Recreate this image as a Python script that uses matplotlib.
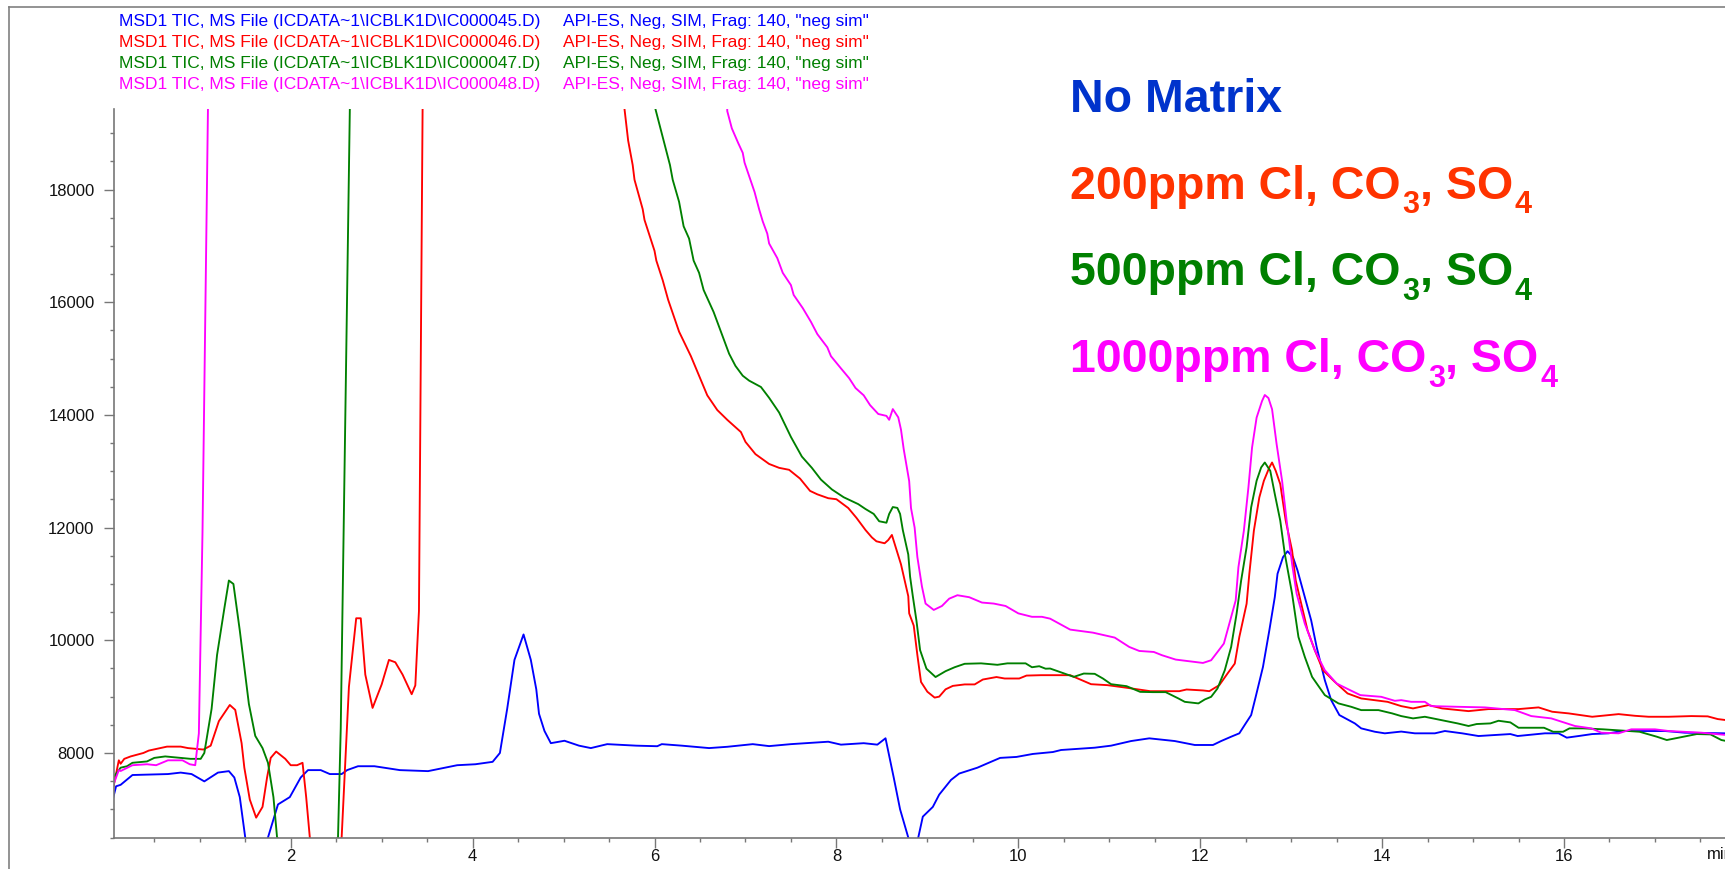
import matplotlib
matplotlib.use("Agg")
import matplotlib.pyplot as plt
from matplotlib.lines import Line2D
from matplotlib.ticker import MultipleLocator
import matplotlib.transforms as mtransforms

plt.rcParams['font.family'] = ['Liberation Sans', 'DejaVu Sans']

# ---- data (retention time in min, TIC abundance) ----
# no matrix (IC000045)
t_blue = [0.05, 0.08, 0.13, 0.26, 0.65, 0.79, 0.91, 1.05, 1.20, 1.32, 1.38, 1.44, 1.50, 1.62, 1.75,
          1.86, 1.99, 2.11, 2.19, 2.33, 2.43, 2.56, 2.62, 2.74, 2.92, 3.20, 3.51, 3.83, 4.03, 4.22,
          4.30, 4.38, 4.46, 4.56, 4.64, 4.70, 4.73, 4.79, 4.86, 5.01, 5.17, 5.30, 5.48, 5.80, 6.03,
          6.08, 6.30, 6.60, 6.80, 7.08, 7.26, 7.50, 7.91, 8.05, 8.30, 8.45, 8.54, 8.63, 8.70, 8.79,
          8.85, 8.90, 8.95, 9.06, 9.13, 9.26, 9.35, 9.55, 9.65, 9.80, 9.98, 10.16, 10.38, 10.47,
          10.84, 11.02, 11.24, 11.44, 11.72, 11.94, 12.14, 12.23, 12.34, 12.43, 12.50, 12.56, 12.61,
          12.69, 12.76, 12.82, 12.85, 12.91, 12.96, 13.02, 13.07, 13.15, 13.22, 13.28, 13.37, 13.44,
          13.53, 13.70, 13.77, 13.92, 14.03, 14.21, 14.36, 14.58, 14.69, 14.88, 15.06, 15.41, 15.49,
          15.79, 15.94, 16.03, 16.16, 16.31, 16.49, 16.64, 16.90, 17.11, 17.33, 17.77, 17.90]
y_blue = [7217, 7409, 7435, 7609, 7626, 7652, 7626, 7496, 7652, 7678, 7565, 7217, 6500, 6100, 6500,
          7087, 7217, 7565, 7696, 7696, 7626, 7626, 7696, 7765, 7765, 7696, 7678, 7783, 7800, 7843,
          8000, 8783, 9652, 10104, 9652, 9130, 8696, 8391, 8174, 8217, 8130, 8087, 8157, 8130, 8120,
          8157, 8130, 8087, 8110, 8157, 8122, 8157, 8200, 8148, 8174, 8148, 8261, 7565, 7000, 6500,
          6200, 6500, 6870, 7043, 7261, 7522, 7635, 7739, 7809, 7913, 7930, 7983, 8017, 8053,
          8094, 8130, 8212, 8260, 8212, 8142, 8142, 8212, 8289, 8349, 8525, 8673, 8997,
          9528, 10177, 10767, 11181, 11475, 11581, 11475, 11239, 10767, 10354, 9882, 9292, 8938,
          8673, 8525, 8437, 8377, 8349, 8380, 8349, 8349, 8390, 8349, 8301, 8336, 8301,
          8349, 8349, 8272, 8301, 8336, 8349, 8390, 8390, 8390, 8360, 8349, 8301]

# 200 ppm (IC000046)
t_red = [0.05, 0.11, 0.13, 0.17, 0.24, 0.38, 0.44, 0.64, 0.79, 0.87, 1.04, 1.12, 1.21, 1.33, 1.39,
         1.46, 1.49, 1.55, 1.62, 1.69, 1.74, 1.78, 1.84, 1.94, 2.00, 2.07, 2.13, 2.17, 2.21, 2.35,
         2.56, 2.64, 2.72, 2.77, 2.82, 2.90, 3.00, 3.08, 3.15, 3.23, 3.33, 3.37, 3.41, 3.45, 3.50,
         5.60, 5.67, 5.71, 5.76, 5.78, 5.87, 5.89, 6.00, 6.02, 6.09, 6.15, 6.27, 6.40, 6.49, 6.58,
         6.69, 6.80, 6.86, 6.95, 7.00, 7.11, 7.26, 7.37, 7.48, 7.60, 7.71, 7.79, 7.91, 8.00, 8.13,
         8.22, 8.32, 8.39, 8.44, 8.53, 8.57, 8.61, 8.66, 8.71, 8.79, 8.80, 8.85, 8.89, 8.93, 9.00,
         9.08, 9.13, 9.20, 9.28, 9.41, 9.52, 9.61, 9.76, 9.85, 10.01, 10.09, 10.25, 10.57, 10.80,
         10.98, 11.20, 11.45, 11.77, 11.85, 12.03, 12.10, 12.21, 12.30, 12.38, 12.43, 12.51, 12.54,
         12.59, 12.65, 12.70, 12.76, 12.79, 12.83, 12.88, 12.94, 13.01, 13.05, 13.12, 13.18, 13.26,
         13.35, 13.48, 13.62, 13.77, 14.06, 14.21, 14.34, 14.51, 14.66, 14.95, 15.17, 15.50, 15.72,
         15.87, 16.05, 16.31, 16.60, 16.78, 16.93, 17.15, 17.40, 17.58, 17.69, 17.78]
y_red = [7391, 7870, 7809, 7896, 7939, 8000, 8043, 8113, 8113, 8087, 8061, 8130, 8565, 8852, 8765,
         8174, 7739, 7174, 6852, 7043, 7565, 7913, 8026, 7896, 7783, 7783, 7826, 7217, 6500, 6000,
         6500, 9174, 10391, 10391, 9391, 8800, 9217, 9652, 9610, 9391, 9043, 9200, 10522, 19430, 25000,
         25000, 19430, 18870, 18435, 18174, 17652, 17461, 16913, 16739, 16391, 16043, 15478, 15043, 14696, 14348,
         14087, 13913, 13826, 13696, 13522, 13304, 13130, 13061, 13026, 12870, 12652, 12591, 12522, 12504, 12348,
         12174, 11957, 11826, 11757, 11722, 11780, 11870, 11609, 11348, 10783, 10478, 10261, 9739, 9261, 9087,
         8983, 9000, 9130, 9191, 9217, 9217, 9304, 9348, 9322, 9322, 9374, 9381, 9381, 9221,
         9204, 9156, 9097, 9097, 9127, 9110, 9097, 9204, 9410, 9587, 10059, 10649, 11181,
         11947, 12537, 12832, 13068, 13156, 13009, 12773, 12124, 11593, 11062, 10590, 10177, 9823,
         9469, 9262, 9057, 8968, 8908, 8832, 8791, 8850, 8791, 8743, 8779, 8779, 8809,
         8732, 8703, 8643, 8690, 8660, 8643, 8643, 8655, 8650, 8602, 8584]

# 500 ppm (IC000047)
t_green = [0.05, 0.13, 0.20, 0.26, 0.42, 0.50, 0.62, 0.90, 1.01, 1.05, 1.13, 1.19, 1.27, 1.32, 1.37,
           1.44, 1.48, 1.54, 1.61, 1.69, 1.75, 1.81, 1.85, 2.20, 2.52, 2.55, 2.59, 2.65, 2.70, 5.95,
           6.01, 6.10, 6.17, 6.20, 6.27, 6.32, 6.38, 6.43, 6.49, 6.54, 6.65, 6.71, 6.82, 6.89, 6.97,
           7.04, 7.17, 7.26, 7.37, 7.50, 7.62, 7.73, 7.83, 7.95, 8.08, 8.24, 8.32, 8.41, 8.47, 8.55,
           8.58, 8.62, 8.67, 8.70, 8.73, 8.79, 8.81, 8.84, 8.88, 8.92, 8.99, 9.09, 9.20, 9.30, 9.41,
           9.59, 9.77, 9.88, 10.08, 10.15, 10.23, 10.30, 10.35, 10.61, 10.72, 10.84, 10.93, 11.02,
           11.19, 11.34, 11.48, 11.62, 11.76, 11.83, 11.98, 12.05, 12.12, 12.19, 12.27, 12.34, 12.40,
           12.45, 12.51, 12.56, 12.62, 12.67, 12.71, 12.77, 12.82, 12.88, 12.93, 13.01, 13.08, 13.15,
           13.23, 13.37, 13.52, 13.66, 13.77, 13.96, 14.11, 14.21, 14.34, 14.47, 14.83, 14.95, 15.04,
           15.19, 15.28, 15.41, 15.50, 15.78, 15.88, 15.99, 16.06, 16.21, 16.43, 16.83, 17.02, 17.13,
           17.35, 17.46, 17.61, 17.73, 17.88]
y_green = [7565, 7739, 7765, 7826, 7850, 7913, 7939, 7896, 7896, 8000, 8783, 9739, 10565, 11061, 11000,
           10174, 9652, 8870, 8304, 8087, 7826, 7217, 6500, 6000, 6500, 8435, 12783, 19430, 25000, 25000,
           19430, 18870, 18435, 18174, 17783, 17348, 17130, 16739, 16522, 16217, 15826, 15565, 15087, 14870, 14696,
           14609, 14496, 14304, 14043, 13609, 13261, 13061, 12852, 12678, 12539, 12417, 12330, 12243, 12113, 12087,
           12243, 12365, 12350, 12243, 11957, 11522, 11130, 10783, 10348, 9826, 9496, 9348, 9452, 9522, 9583,
           9591, 9565, 9591, 9591, 9522, 9540, 9496, 9499, 9351, 9410, 9405, 9322, 9221,
           9186, 9085, 9080, 9080, 8968, 8908, 8880, 8950, 8997, 9145, 9469, 9882, 10472,
           11062, 11652, 12360, 12832, 13068, 13156, 13009, 12596, 12124, 11534, 10827, 10059, 9705,
           9351, 9027, 8880, 8820, 8761, 8761, 8703, 8655, 8614, 8643, 8525, 8479, 8514,
           8525, 8572, 8543, 8448, 8448, 8377, 8377, 8437, 8437, 8420, 8377, 8289, 8230,
           8301, 8336, 8330, 8230, 8183]

# 1000 ppm (IC000048)
t_mag = [0.05, 0.11, 0.13, 0.26, 0.42, 0.52, 0.65, 0.81, 0.89, 0.95, 0.99, 1.03, 1.09, 1.15, 6.70,
         6.80, 6.85, 6.92, 6.97, 6.99, 7.10, 7.15, 7.19, 7.24, 7.26, 7.35, 7.41, 7.50, 7.53, 7.63,
         7.72, 7.79, 7.90, 7.94, 8.05, 8.14, 8.21, 8.30, 8.37, 8.46, 8.55, 8.58, 8.62, 8.68, 8.71,
         8.74, 8.80, 8.82, 8.86, 8.89, 8.94, 8.98, 9.07, 9.16, 9.24, 9.33, 9.46, 9.60, 9.73, 9.86,
         10.00, 10.15, 10.26, 10.35, 10.57, 10.82, 11.06, 11.22, 11.33, 11.49, 11.58, 11.73, 11.88,
         12.03, 12.12, 12.19, 12.26, 12.33, 12.39, 12.42, 12.48, 12.53, 12.57, 12.62, 12.68, 12.71,
         12.75, 12.79, 12.84, 12.90, 12.95, 13.01, 13.06, 13.15, 13.26, 13.37, 13.50, 13.61, 13.76,
         13.99, 14.14, 14.21, 14.32, 14.47, 14.54, 14.83, 15.13, 15.46, 15.64, 15.86, 16.12, 16.30,
         16.41, 16.60, 16.74, 17.00, 17.15, 17.51, 17.79]
y_mag = [7435, 7696, 7680, 7783, 7800, 7783, 7870, 7870, 7800, 7783, 8348, 11913, 19430, 25000, 25000,
         19391, 19087, 18826, 18652, 18478, 17957, 17652, 17435, 17217, 17043, 16783, 16522, 16304, 16130, 15896,
         15652, 15435, 15200, 15043, 14826, 14652, 14478, 14348, 14174, 14017, 13983, 13913, 14104, 13957, 13739,
         13391, 12826, 12348, 12000, 11478, 10957, 10652, 10539, 10609, 10739, 10800, 10765, 10670, 10652, 10609,
         10478, 10417, 10417, 10384, 10190, 10136, 10048, 9882, 9811, 9793, 9735, 9658, 9628,
         9598, 9646, 9793, 9942, 10354, 10708, 11298, 11947, 12714, 13422, 13953, 14248, 14354,
         14300, 14101, 13482, 12832, 12124, 11357, 10827, 10296, 9823, 9469, 9233, 9145, 9027,
         8997, 8926, 8938, 8908, 8908, 8832, 8820, 8809, 8761, 8655, 8614, 8479, 8437,
         8360, 8349, 8420, 8420, 8390, 8360, 8319]

series_t = [t_blue, t_red, t_green, t_mag]
series_y = [y_blue, y_red, y_green, y_mag]
colors = ['#0000FF', '#FF0000', '#008000', '#FF00FF']
files = ['IC000045', 'IC000046', 'IC000047', 'IC000048']
# big labels: (text, is_subscript) pieces
big_labels = [[('No Matrix', False)],
              [('200ppm Cl, CO', False), ('3', True), (', SO', False), ('4', True)],
              [('500ppm Cl, CO', False), ('3', True), (', SO', False), ('4', True)],
              [('1000ppm Cl, CO', False), ('3', True), (', SO', False), ('4', True)]]
big_colors = ['#0033CC', '#FF3300', '#008000', '#FF00FF']

W, H = 1725, 869
fig = plt.figure(figsize=(W / 100, H / 100), dpi=100)

ax = fig.add_axes([114 / W, (H - 837.5) / H, (W - 114) / W, (837.5 - 109) / H])
for tt, yy, c in zip(series_t, series_y, colors):
    ax.plot(tt, yy, color=c, lw=1.35)

ax.set_xlim(0.057, 17.77)
ax.set_ylim(6500, 19430)
ax.xaxis.set_minor_locator(MultipleLocator(0.5))
ax.yaxis.set_minor_locator(MultipleLocator(500))
ax.set_xticks([2, 4, 6, 8, 10, 12, 14, 16])
ax.set_yticks([8000, 10000, 12000, 14000, 16000, 18000])

for s in ['top', 'right']:
    ax.spines[s].set_visible(False)
for s in ['left', 'bottom']:
    ax.spines[s].set_color('#777777')
    ax.spines[s].set_linewidth(1.2)

ax.tick_params(which='major', length=7, width=1, color='#777777', labelsize=12, labelcolor='#111111')
ax.tick_params(which='minor', length=3.2, width=1, color='#777777')
ax.tick_params(axis='x', which='major', pad=1)
ax.tick_params(axis='y', which='major', pad=7)

# x unit label at the right end of the axis (cut by the page edge, as in the original)
trans = mtransforms.blended_transform_factory(ax.transData, ax.transAxes)
ax.text(17.57, -0.0135, 'min', transform=trans, ha='left', va='top', fontsize=12,
        color='#111111', clip_on=False)

# header lines
for i, (f, c) in enumerate(zip(files, colors)):
    yb = 1 - (25.7 + 21 * i) / H
    fig.text(119 / W, yb, 'MSD1 TIC, MS File (ICDATA~1\\ICBLK1D\\%s.D)' % f,
             color=c, fontsize=12.5, va='baseline', ha='left')
    fig.text(563 / W, yb, 'API-ES, Neg, SIM, Frag: 140, "neg sim"',
             color=c, fontsize=12.5, va='baseline', ha='left')

# big legend-like labels, subscripts drawn as smaller lowered pieces
renderer = fig.canvas.get_renderer()
px = mtransforms.IdentityTransform()
for i, (pieces, c) in enumerate(zip(big_labels, big_colors)):
    base = H - (112 + 86.7 * i)
    x = 1070
    for txt, sub in pieces:
        t = fig.text(x + (2 if sub else 0), base - (14.5 if sub else 0), txt, transform=px,
                     color=c, fontsize=22 if sub else 33.5, fontweight='bold',
                     va='baseline', ha='left')
        x = t.get_window_extent(renderer).x1

# frame of the original report page
fig.add_artist(Line2D([9 / W, 9 / W], [0, 1 - 7.3 / H], transform=fig.transFigure,
                      color='#808080', lw=1.2))
fig.add_artist(Line2D([9 / W, 1], [1 - 7.3 / H, 1 - 7.3 / H], transform=fig.transFigure,
                      color='#808080', lw=1.2))

fig.savefig('out.png', dpi=100)
